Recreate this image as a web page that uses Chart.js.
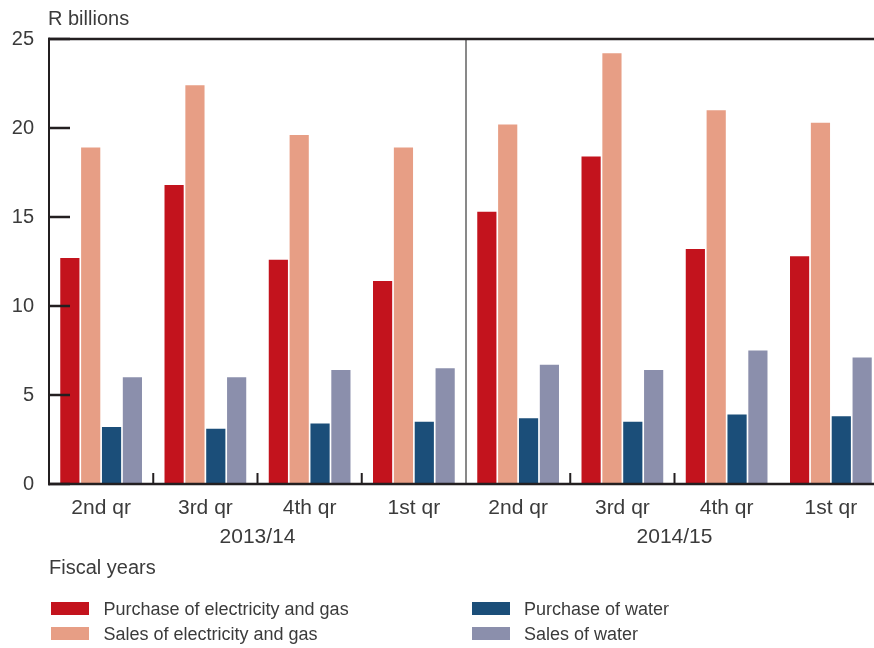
<!DOCTYPE html>
<html>
<head>
<meta charset="utf-8">
<script src="https://cdn.jsdelivr.net/npm/chart.js@4/dist/chart.umd.min.js"></script>
<style>
  html, body { margin: 0; padding: 0; background: #fff; width: 874px; height: 648px; overflow: hidden; }
  #wrap { position: relative; width: 874px; height: 648px; overflow: hidden; font-family: 'Liberation Sans', Arial, sans-serif; color: #3b3b3b; }
  canvas { position: absolute; left: 0; top: 0; }
  .t { position: absolute; white-space: nowrap; }
  .sw { position: absolute; width: 38px; height: 13px; }
</style>
</head>
<body>
<div id="wrap">
  <canvas id="c" width="884" height="648"></canvas>
  <div class="t" style="left:48px; top:7.5px; font-size:20px; line-height:20px;">R billions</div>
  <div class="t" style="left:49px; top:556.6px; font-size:20px; line-height:20px;">Fiscal years</div>
  <div id="legend"></div>
</div>
<script>
const categories = ['2nd qr', '3rd qr', '4th qr', '1st qr', '2nd qr', '3rd qr', '4th qr', '1st qr'];
const fiscalYears = ['2013/14', '2014/15'];
const purchaseElecGas = [12.7, 16.8, 12.6, 11.4, 15.3, 18.4, 13.2, 12.8];
const salesElecGas = [18.9, 22.4, 19.6, 18.9, 20.2, 24.2, 21.0, 20.3];
const purchaseWater = [3.2, 3.1, 3.4, 3.5, 3.7, 3.5, 3.9, 3.8];
const salesWater = [6.0, 6.0, 6.4, 6.5, 6.7, 6.4, 7.5, 7.1];
const yTicks = [0, 5, 10, 15, 20, 25];

const seriesNames = ['Purchase of electricity and gas', 'Sales of electricity and gas', 'Purchase of water', 'Sales of water'];
const seriesColors = ['#c3131d', '#e79e85', '#1b4e79', '#8b8fac'];
const seriesData = [purchaseElecGas, salesElecGas, purchaseWater, salesWater];

const FONT = "'Liberation Sans', Arial, sans-serif";
const TEXT = '#3b3b3b';
const AXIS = '#231f20';

// HTML legend
const legendPos = [[51, 602], [51, 627], [471.5, 602], [471.5, 627]];
const legend = document.getElementById('legend');
seriesNames.forEach((name, i) => {
  const [x, y] = legendPos[i];
  const sw = document.createElement('div');
  sw.className = 'sw';
  sw.style.left = x + 'px'; sw.style.top = y + 'px'; sw.style.background = seriesColors[i];
  legend.appendChild(sw);
  const t = document.createElement('div');
  t.className = 't';
  t.style.left = (x + 52.5) + 'px'; t.style.top = (y - 1.7) + 'px';
  t.style.fontSize = '18px'; t.style.lineHeight = '18px';
  t.textContent = name;
  legend.appendChild(t);
});

const axesPlugin = {
  id: 'axesPlugin',
  afterDatasetsDraw(chart) {
    const { ctx, chartArea: a, scales } = chart;
    const xs = scales.x, ys = scales.y;
    const bound = i => (xs.getPixelForValue(i) + xs.getPixelForValue(i + 1)) / 2;
    ctx.save();
    ctx.lineCap = 'butt';
    // divider between fiscal years
    ctx.lineWidth = 1.3;
    ctx.strokeStyle = '#4a4a4a';
    const dx = bound(3);
    ctx.beginPath(); ctx.moveTo(dx, a.top); ctx.lineTo(dx, a.bottom); ctx.stroke();
    ctx.strokeStyle = AXIS;
    // y ticks inward
    ctx.lineWidth = 2.5;
    yTicks.forEach(v => {
      const y = ys.getPixelForValue(v);
      ctx.beginPath(); ctx.moveTo(a.left, y); ctx.lineTo(a.left + 21, y); ctx.stroke();
    });
    // x ticks inward
    ctx.lineWidth = 2;
    [0, 1, 2, 4, 5].forEach(i => {
      const x = bound(i);
      ctx.beginPath(); ctx.moveTo(x, a.bottom - 11); ctx.lineTo(x, a.bottom); ctx.stroke();
    });
    // top line
    ctx.lineWidth = 2.6;
    ctx.beginPath(); ctx.moveTo(a.left - 1, a.top); ctx.lineTo(chart.width, a.top); ctx.stroke();
    // bottom axis
    ctx.beginPath(); ctx.moveTo(a.left - 1, a.bottom); ctx.lineTo(chart.width, a.bottom); ctx.stroke();
    // left axis
    ctx.lineWidth = 2;
    ctx.beginPath(); ctx.moveTo(a.left, a.top - 1.3); ctx.lineTo(a.left, a.bottom + 1.3); ctx.stroke();
    // fiscal year labels
    ctx.fillStyle = TEXT;
    ctx.font = '21px ' + FONT;
    ctx.textAlign = 'center';
    ctx.textBaseline = 'alphabetic';
    fiscalYears.forEach((fy, k) => {
      const x = (xs.getPixelForValue(k * 4 + 1) + xs.getPixelForValue(k * 4 + 2)) / 2;
      ctx.fillText(fy, x, 542.5);
    });
    ctx.restore();
  }
};

new Chart(document.getElementById('c'), {
  type: 'bar',
  data: {
    labels: categories,
    datasets: seriesNames.map((n, i) => ({
      label: n,
      data: seriesData[i],
      backgroundColor: seriesColors[i],
      borderWidth: 0,
      categoryPercentage: 0.8,
      barPercentage: 0.92
    }))
  },
  options: {
    responsive: false,
    animation: false,
    devicePixelRatio: 1,
    layout: { padding: { top: 39, left: 0, right: 1, bottom: 0 } },
    plugins: { legend: { display: false }, tooltip: { enabled: false }, title: { display: false } },
    scales: {
      x: {
        grid: { display: false },
        border: { display: false },
        ticks: { color: TEXT, font: { family: FONT, size: 21 }, padding: 3.5, maxRotation: 0, autoSkip: false },
        afterFit: s => { s.height = 164; }
      },
      y: {
        min: 0, max: 25,
        afterBuildTicks: s => { s.ticks = yTicks.map(v => ({ value: v })); },
        grid: { display: false },
        border: { display: false },
        ticks: { color: TEXT, font: { family: FONT, size: 20 }, padding: 7 },
        afterFit: s => { s.width = 49; }
      }
    }
  },
  plugins: [axesPlugin]
});
</script>
</body>
</html>
